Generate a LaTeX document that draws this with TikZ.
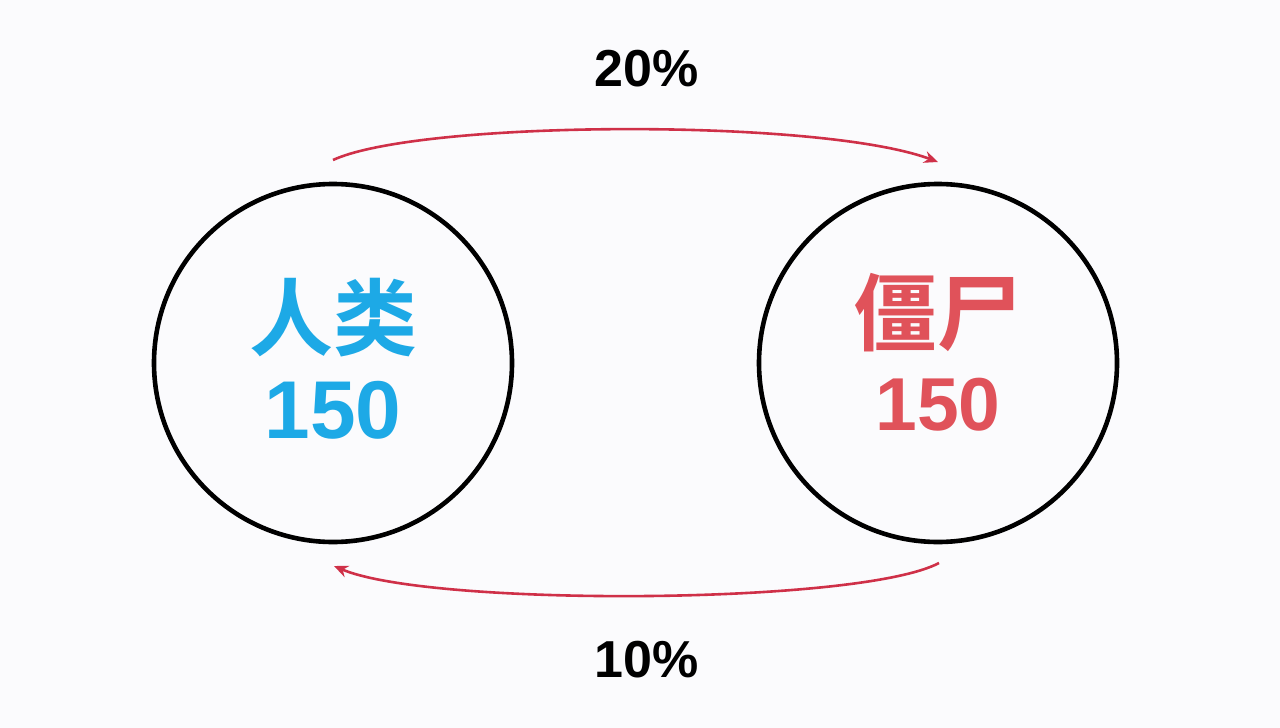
\documentclass[tikz,border=0pt]{standalone}
\usepackage{fontspec}
\setmainfont{Liberation Sans}
\newfontfamily\cjk{Noto Sans CJK SC}[BoldFont={* Bold}]
\usetikzlibrary{arrows.meta}
\definecolor{bg}{HTML}{FBFBFD}
\definecolor{hblue}{HTML}{1DA9E6}
\definecolor{zred}{HTML}{E0525A}
\definecolor{arr}{HTML}{CF3048}
\begin{document}
\begin{tikzpicture}[x=1pt,y=-1pt,
  ring/.style={circle,draw=black,line width=4.6pt,minimum size=358pt,inner sep=0pt},
  flow/.style={draw=arr,line width=2.6pt,-{Stealth[length=14pt,width=12pt]}},
  pct/.style={font=\bfseries\fontsize{52}{56}\selectfont,text=black},
  big/.style={font=\bfseries\fontsize{82}{90}\selectfont},
  bigsm/.style={font=\bfseries\fontsize{75}{80}\selectfont},
  bigcjk/.style={font=\cjk\bfseries\fontsize{84}{90}\selectfont}]
\fill[bg] (0,0) rectangle (1280,728);
\useasboundingbox (0,0) rectangle (1280,728);
\node[ring] (h) at (333,363) {};
\node[ring] (z) at (938,363) {};
\node[bigcjk,text=hblue] (hl) at (333,318) {人类};
\node[big,text=hblue] (hn) at (333,410) {150};
\node[bigcjk,text=zred] (zl) at (937,313) {僵尸};
\node[bigsm,text=zred] (zn) at (938,405) {150};
\node[pct] (t) at (647,69) {20\%};
\node[pct] (b) at (647,660) {10\%};
\coordinate (a1) at (333,160);
\coordinate (a2) at (938,162);
\coordinate (b1) at (939,563);
\coordinate (b2) at (334,566);
\draw[flow] (a1) .. controls (420,120) and (820,118) .. (a2);
\draw[flow] (b1) .. controls (860,605) and (430,607) .. (b2);
\end{tikzpicture}
\end{document}
